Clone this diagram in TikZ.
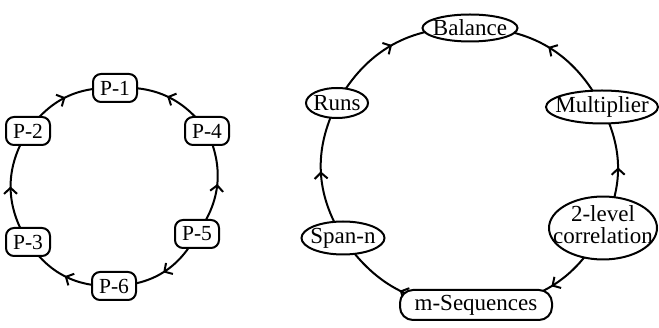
\documentclass[tikz,border=0pt]{standalone}
\usepackage{fontspec}
\setmainfont{Liberation Serif}
\usetikzlibrary{shapes.geometric,arrows.meta,decorations.markings,backgrounds}
\newcommand{\zb}[1]{\makebox[0pt]{#1}}
\begin{document}
\begin{tikzpicture}[x=1pt,y=-1pt,
  pbox/.style={draw, line width=2pt, rectangle, rounded corners=8pt, fill=white, inner sep=0pt,
    minimum width=44pt, minimum height=28pt, font=\fontsize{21.5}{21}\selectfont},
  oval/.style={draw, line width=2pt, ellipse, fill=white, inner sep=0pt, font=\fontsize{23}{21}\selectfont},
  stad/.style={draw, line width=2pt, rectangle, rounded corners=13pt, fill=white, inner sep=0pt,
    minimum width=152pt, minimum height=30pt, font=\fontsize{23}{21}\selectfont},
  link/.style={line width=2pt, postaction={decorate}, decoration={markings,
    mark=at position 0.5 with {\arrow[line width=2pt]{Straight Barb[length=6pt,width=13pt]}}}}
]
\useasboundingbox (0,0) rectangle (659,328);
% left cycle
\node[pbox] (P1) at (115,88) {P-1};
\node[pbox] (P2) at (28,131) {P-2};
\node[pbox] (P4) at (207,131) {P-4};
\node[pbox] (P3) at (28,242) {P-3};
\node[pbox] (P5) at (197,234) {P-5};
\node[pbox] (P6) at (114,286) {P-6};
% right cycle
\node[oval, minimum width=95pt, minimum height=27pt] (Bal) at (470,28) {\zb{Balance}};
\node[oval, minimum width=62pt, minimum height=30pt] (Runs) at (337,103) {\zb{Runs}};
\node[oval, minimum width=112pt, minimum height=33pt] (Mul) at (602,107) {\zb{Multiplier}};
\node[oval, minimum width=83pt, minimum height=33pt] (Span) at (343,238) {\zb{Span-n}};
\node[oval, minimum width=108pt, minimum height=59pt] (Corr) at (603,228)
  {\zb{\begin{tabular}{@{}c@{}}2-level\\correlation\end{tabular}}};
\node[stad] (mSeq) at (476,305) {m-Sequences};
\begin{scope}[on background layer]
\draw[link] (P2.center) to[bend left=28.5] (P1.center);
\draw[link] (P4.center) to[bend right=29] (P1.center);
\draw[link] (P3.center) to[bend left=32.5] (P2.center);
\draw[link] (P5.center) to[bend right=30.5] (P4.center);
\draw[link] (P5.center) to[bend left=30.5] (P6.center);
\draw[link] (P6.center) to[bend left=29] (P3.center);
\draw[link] (Runs.center) to[bend left=31.6] (Bal.center);
\draw[link] (Mul.center) to[bend right=32] (Bal.center);
\draw[link] (Corr.center) to[bend right=26] (Mul.center);
\draw[link] (Corr.center) to[bend left=32] (mSeq.center);
\draw[link] (mSeq.center) to[bend left=29.5] (Span.center);
\draw[link] (Span.center) to[bend left=29] (Runs.center);
\end{scope}
\end{tikzpicture}
\end{document}
